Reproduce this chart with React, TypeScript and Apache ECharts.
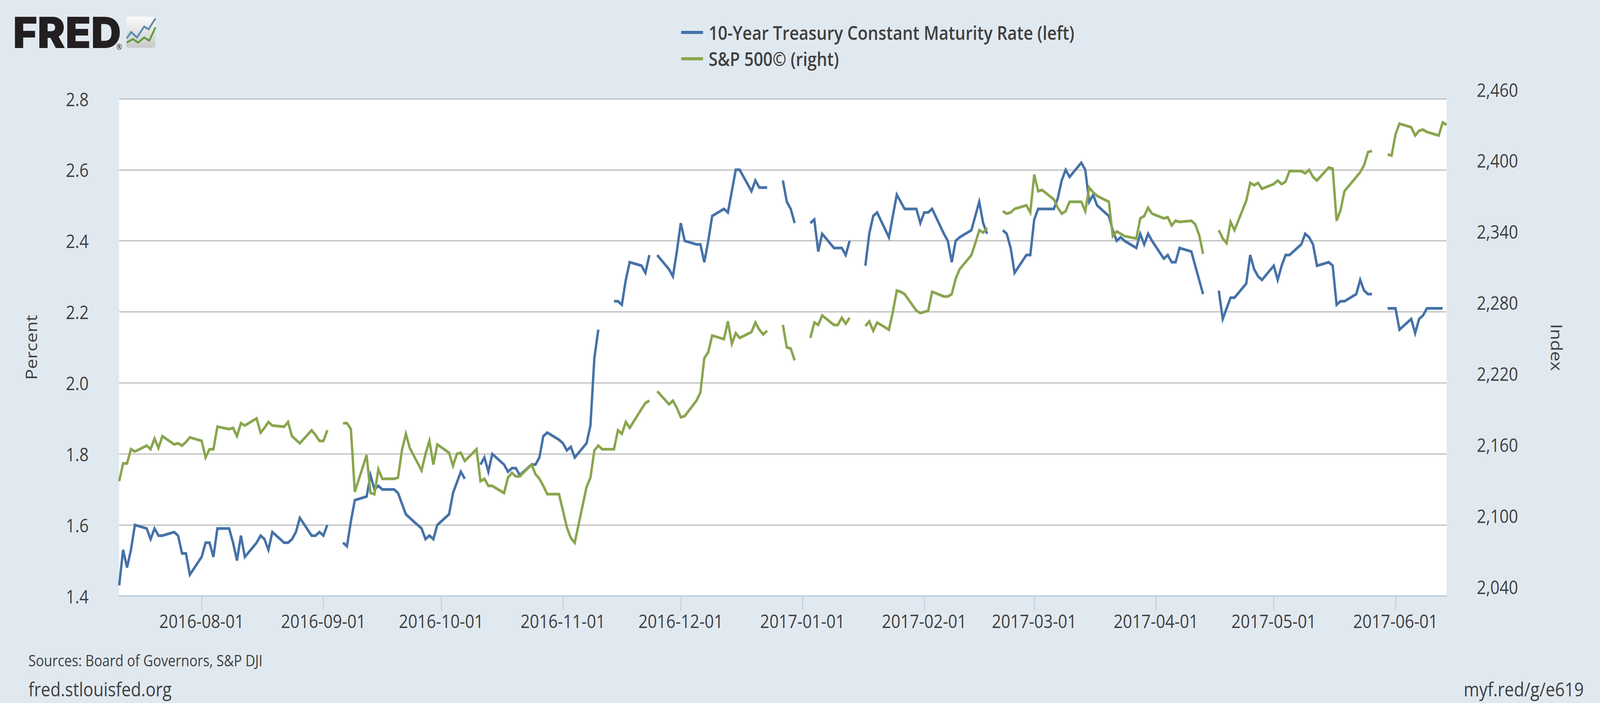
import React, { useEffect, useRef } from "react";
import * as echarts from "echarts";

const FONT = "'Open Sans', sans-serif";
const INK = "#404040";
const FIRST_MONDAY = "2016-07-11";
const CHART_WIDTH = 4672;
const CHART_HEIGHT = 1800;
const NAME_RATE = "10-Year Treasury Constant Maturity Rate (left)";
const NAME_SPX = "S&P 500© (right)";
const X_TICKS = ["2016-08-01","2016-09-01","2016-10-01","2016-11-01","2016-12-01","2017-01-01","2017-02-01","2017-03-01","2017-04-01","2017-05-01","2017-06-01"];

// One row per week, Monday to Friday; null is a day with no observation.
const rateWeeks: (number | null)[][] = [
  [1.43,1.53,1.48,1.53,1.60],[1.59,1.56,1.59,1.57,1.57],[1.58,1.57,1.52,1.52,1.46],[1.51,1.55,1.55,1.51,1.59],
  [1.59,1.55,1.50,1.57,1.51],[1.55,1.57,1.56,1.53,1.58],[1.55,1.55,1.56,1.58,1.62],[1.57,1.57,1.58,1.57,1.60],
  [null,1.55,1.54,1.61,1.67],[1.68,1.74,1.70,1.71,1.70],[1.70,1.69,1.66,1.63,1.62],[1.59,1.56,1.57,1.56,1.60],
  [1.63,1.69,1.72,1.75,1.73],[null,1.77,1.79,1.75,1.80],[1.77,1.75,1.76,1.76,1.74],[1.77,1.77,1.79,1.85,1.86],
  [1.84,1.83,1.81,1.82,1.79],[1.83,1.88,2.07,2.15,null],[2.23,2.23,2.22,2.29,2.34],[2.33,2.31,2.36,null,2.36],
  [2.32,2.30,2.37,2.45,2.40],[2.39,2.39,2.34,2.40,2.47],[2.49,2.48,2.54,2.60,2.60],[2.54,2.57,2.55,2.55,2.55],
  [null,2.57,2.51,2.49,2.45],[null,2.45,2.46,2.37,2.42],[2.38,2.38,2.38,2.36,2.40],[null,2.33,2.42,2.47,2.48],
  [2.41,2.47,2.53,2.51,2.49],[2.49,2.45,2.48,2.48,2.49],[2.42,2.40,2.34,2.40,2.41],[2.43,2.47,2.51,2.45,2.42],
  [null,2.43,2.42,2.38,2.31],[2.36,2.36,2.46,2.49,2.49],[2.49,2.52,2.57,2.60,2.58],[2.62,2.60,2.51,2.53,2.50],
  [2.47,2.43,2.40,2.41,2.40],[2.38,2.42,2.39,2.42,2.40],[2.35,2.36,2.34,2.34,2.38],[2.37,2.33,2.29,2.25,null],
  [2.26,2.18,2.21,2.24,2.24],[2.28,2.36,2.32,2.30,2.29],[2.33,2.29,2.33,2.36,2.36],[2.39,2.42,2.41,2.39,2.33],
  [2.34,2.33,2.22,2.23,2.23],[2.25,2.29,2.26,2.25,2.25],[null,2.21,2.21,2.21,2.15],[2.18,2.14,2.18,2.19,2.21],
  [2.21,2.21,null],
];
const spxWeeks: (number | null)[][] = [
  [2137,2152,2152,2164,2162],[2167,2164,2173,2165,2175],[2168,2169,2167,2170,2174],[2171,2157,2164,2164,2183],
  [2181,2182,2175,2186,2184],[2190,2178,2182,2187,2184],[2183,2187,2175,2172,2169],[2180,2176,2171,2171,2180],
  [null,2186,2186,2181,2128],[2159,2127,2126,2147,2139],[2139,2140,2163,2177,2165],[2146,2160,2171,2151,2168],
  [2161,2150,2160,2161,2154],[2164,2137,2139,2133,2133],[2127,2140,2144,2141,2141],[2151,2143,2139,2133,2126],
  [2126,2112,2098,2089,2085],[2132,2140,2163,2167,2164],[2164,2180,2177,2187,2182],[2198,2203,2205,null,2213],
  [2202,2205,2199,2191,2192],[2205,2212,2241,2246,2260],[2257,2272,2253,2262,2258],[2263,2271,2265,2261,2264],
  [null,2269,2250,2249,2239],[null,2258,2271,2269,2277],[2269,2269,2275,2270,2275],[null,2268,2272,2264,2271],
  [2265,2280,2298,2297,2295],[2281,2279,2280,2281,2297],[2293,2293,2295,2308,2316],[2328,2338,2349,2347,2351],
  [null,2365,2363,2364,2367],[2370,2364,2396,2382,2383],[2375,2368,2363,2365,2373],[2373,2365,2385,2381,2378],
  [2373,2344,2348,2346,2344],[2342,2359,2361,2368,2363],[2359,2360,2353,2357,2356],[2357,2354,2345,2329,null],
  [2349,2342,2338,2356,2349],[2374,2389,2387,2389,2384],[2388,2391,2388,2390,2399],[2399,2397,2400,2394,2391],
  [2402,2401,2357,2366,2382],[2394,2398,2404,2415,2416],[null,2413,2412,2430,2439],[2436,2429,2433,2434,2432],
  [2429,2440,2438],
];

const DAY = 86400000;
const toPairs = (weeks: (number | null)[][]) => {
  const start = Date.parse(FIRST_MONDAY);
  return weeks.flatMap((week, w) => week.map((v, d) => [start + (w * 7 + d) * DAY, v]));
};

function buildOption(): any {
  const labelBase = { fontFamily: FONT, fontSize: 47.5, color: INK };
  return {
    animation: false,
    backgroundColor: "#e1e9f0",
    textStyle: { fontFamily: FONT },
    grid: { left: 348, width: 3876, top: 253, height: 1273, show: true, backgroundColor: "#ffffff", borderWidth: 0, containLabel: false },
    legend: {
      orient: "vertical",
      left: 1984,
      top: 54,
      itemWidth: 64,
      itemHeight: 8,
      itemGap: 19.5,
      icon: "rect",
      selectedMode: false,
      textStyle: { fontFamily: FONT, fontSize: 48.2, fontWeight: 600, color: INK, padding: [0, 0, 0, 11] },
      data: [NAME_RATE, NAME_SPX],
    },
    xAxis: {
      type: "value",
      min: Date.parse("2016-07-11"),
      max: Date.parse("2017-06-14"),
      axisLine: { show: true, onZero: false, lineStyle: { color: "#c0d0e0", width: 4 } },
      axisTick: { show: true, length: 37, lineStyle: { color: "#c0d0e0", width: 3 }, customValues: X_TICKS.map((t) => Date.parse(t)) },
      axisLabel: {
        ...labelBase,
        margin: 39,
        hideOverlap: false,
        customValues: X_TICKS.map((t) => Date.parse(t)),
        formatter: (v: number) => new Date(v).toISOString().slice(0, 10),
      },
      splitLine: { show: false },
      minorTick: { show: false },
    },
    yAxis: [
      {
        type: "value",
        position: "left",
        min: 1.4,
        max: 2.8,
        interval: 0.2,
        axisLine: { show: false },
        axisTick: { show: false },
        axisLabel: { ...labelBase, margin: 89, formatter: (v: number) => v.toFixed(1) },
        splitLine: { show: true, lineStyle: { color: "#bebebe", width: 3 } },
        name: "Percent",
        nameLocation: "middle",
        nameRotate: 90,
        nameGap: 234,
        nameTextStyle: { fontFamily: FONT, fontSize: 46.5, color: INK },
      },
      {
        type: "value",
        position: "right",
        min: 2040,
        max: 2460,
        interval: 60,
        axisLine: { show: false },
        axisTick: { show: false },
        splitLine: { show: false },
        axisLabel: {
          ...labelBase,
          margin: 88,
          verticalAlign: "bottom",
          lineHeight: 48,
          formatter: (v: number) => v.toLocaleString("en-US"),
        },
        name: "Index",
        nameLocation: "middle",
        nameRotate: -90,
        nameGap: 299,
        nameTextStyle: { fontFamily: FONT, fontSize: 46.5, color: INK },
      },
    ],
    series: [
      {
        name: NAME_RATE,
        type: "line",
        yAxisIndex: 0,
        data: toPairs(rateWeeks),
        showSymbol: false,
        connectNulls: false,
        color: "#4572a7",
        lineStyle: { width: 7, join: "miter", cap: "butt" },
        z: 3,
      },
      {
        name: NAME_SPX,
        type: "line",
        yAxisIndex: 1,
        data: toPairs(spxWeeks),
        showSymbol: false,
        connectNulls: false,
        color: "#89a54e",
        lineStyle: { width: 7, join: "miter", cap: "butt" },
        z: 4,
      },
    ],
    graphic: [
      { type: "text", x: 38, y: 28, scaleX: 1.11, style: { text: "FRED", fontFamily: "Inter, sans-serif", fontWeight: 900, fontSize: 110, fill: "#231f20" } },
      { type: "text", x: 340, y: 110, style: { text: "®", fontFamily: FONT, fontSize: 20, fill: "#231f20" } },
      {
        type: "rect",
        shape: { x: 369, y: 43, width: 85, height: 79, r: 5 },
        style: { fill: new echarts.graphic.LinearGradient(0, 0, 0, 1, [{ offset: 0, color: "#fbfbfb" }, { offset: 1, color: "#c9c9c9" }]) },
      },
      {
        type: "polyline",
        shape: { points: [[370, 98], [383, 82], [400, 96], [421, 68], [434, 75], [454, 47]] },
        style: { stroke: "#5b8cac", lineWidth: 5, fill: "none" },
      },
      {
        type: "polyline",
        shape: { points: [[370, 109], [388, 100], [403, 109], [421, 96], [436, 104], [454, 70]] },
        style: { stroke: "#5f9b3f", lineWidth: 5, fill: "none" },
      },
      { type: "text", x: 83, y: 1671, style: { text: "Sources: Board of Governors, S&P DJI", fontFamily: FONT, fontSize: 39.5, fill: INK } },
      { type: "text", x: 83, y: 1739, style: { text: "fred.stlouisfed.org", fontFamily: FONT, fontSize: 49, fill: INK } },
      { type: "text", x: 4274, y: 1739, style: { text: "myf.red/g/e619", fontFamily: FONT, fontSize: 49, fill: INK } },
    ],
  };
}

export default function App() {
  const ref = useRef<HTMLDivElement>(null);
  useEffect(() => {
    document.documentElement.style.overflow = "hidden";
    document.body.style.margin = "0";
    const el = ref.current;
    if (!el) return;
    // The browser window can be narrower than the requested page; fit the whole chart into it.
    const fit = Math.min(1, window.innerWidth / CHART_WIDTH);
    el.style.transform = `scaleX(${fit})`;
    const chart = echarts.init(el, undefined, { renderer: "svg" });
    chart.setOption(buildOption());
    return () => chart.dispose();
  }, []);
  return <div ref={ref} style={{ position: "absolute", left: 0, top: 0, width: CHART_WIDTH, height: CHART_HEIGHT, transformOrigin: "0 0" }} />;
}
